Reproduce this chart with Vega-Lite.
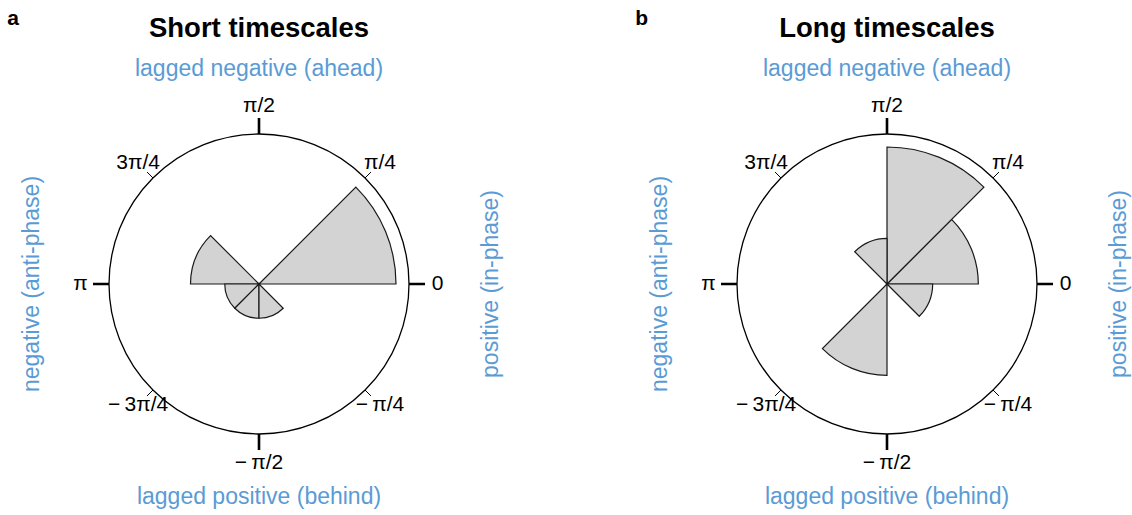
{
  "$schema": "https://vega.github.io/schema/vega-lite/v6.json",
  "autosize": {"type": "pad"},
  "padding": {"left": 7, "top": 7, "right": 0, "bottom": 0},
  "config": {
    "view": {"stroke": null},
    "font": "Liberation Sans",
    "text": {"font": "Liberation Sans"}
  },
  "datasets": {
    "ticks": [
      {"angle": 0, "label": "0", "major": true},
      {"angle": 45, "label": "π/4", "major": false},
      {"angle": 90, "label": "π/2", "major": true},
      {"angle": 135, "label": "3π/4", "major": false},
      {"angle": 180, "label": "π", "major": true},
      {"angle": 225, "label": "−\u20093π/4", "major": false},
      {"angle": 270, "label": "−\u2009π/2", "major": true},
      {"angle": 315, "label": "−\u2009π/4", "major": false}
    ],
    "sides": [
      {"angle": 90, "side": "top", "label": "lagged negative (ahead)"},
      {"angle": 270, "side": "bottom", "label": "lagged positive (behind)"},
      {"angle": 180, "side": "left", "label": "negative (anti-phase)"},
      {"angle": 0, "side": "right", "label": "positive (in-phase)"}
    ]
  },
  "bounds": "flush",
  "spacing": 228,
  "hconcat": [
    {
      "width": 400,
      "height": 400,
      "title": {"text": "a", "anchor": "start", "frame": "group", "offset": 0, "dx": -51.7, "dy": 31, "baseline": "alphabetic", "fontSize": 21, "fontWeight": "bold", "color": "black", "font": "Liberation Sans"},
      "layer": [
        {
          "data": {"values": [{}]},
          "mark": {"type": "arc", "theta": 0, "theta2": 6.2832, "radius": 150, "fill": null, "stroke": "black", "strokeWidth": 1.3},
          "encoding": {}
        },
        {
          "data": {"values": [
            {"from": 0, "to": 45, "count": 4},
            {"from": 135, "to": 180, "count": 2},
            {"from": 180, "to": 225, "count": 1},
            {"from": 225, "to": 270, "count": 1},
            {"from": 270, "to": 315, "count": 1}
          ]},
          "mark": {"type": "arc", "fill": "#d3d3d3", "stroke": "#1a1a1a", "strokeWidth": 1.2},
          "encoding": {
            "theta": {"field": "from", "type": "quantitative", "stack": null, "scale": {"type": "linear", "domain": [0, 360], "range": [1.5707963, -4.712389]}},
            "theta2": {"field": "to"},
            "radius": {"field": "count", "type": "quantitative", "scale": {"type": "linear", "zero": true, "nice": false, "range": [0, 137]}}
          }
        },
        {
          "data": {"name": "ticks"},
          "transform": [{"filter": "datum.major"}],
          "mark": {"type": "arc", "radius": 166, "radius2": 150, "fill": null, "stroke": "black", "strokeWidth": 2.6},
          "encoding": {
            "theta": {"field": "angle", "type": "quantitative", "stack": null, "scale": {"type": "linear", "domain": [0, 360], "range": [1.5707963, -4.712389]}},
            "theta2": {"field": "angle"}
          }
        },
        {
          "data": {"name": "ticks"},
          "transform": [{"filter": "!datum.major"}],
          "mark": {"type": "arc", "radius": 158, "radius2": 150, "fill": null, "stroke": "black", "strokeWidth": 1},
          "encoding": {
            "theta": {"field": "angle", "type": "quantitative", "stack": null},
            "theta2": {"field": "angle"}
          }
        },
        {
          "data": {"name": "ticks"},
          "transform": [{"filter": "datum.major"}],
          "mark": {"type": "text", "radius": 178.5, "fontSize": 21, "color": "black", "baseline": "middle", "align": "center"},
          "encoding": {
            "theta": {"field": "angle", "type": "quantitative", "stack": null},
            "text": {"field": "label"}
          }
        },
        {
          "data": {"name": "ticks"},
          "transform": [{"filter": "!datum.major"}],
          "mark": {"type": "text", "radius": 171, "fontSize": 21, "color": "black", "baseline": "middle", "align": "center"},
          "encoding": {
            "theta": {"field": "angle", "type": "quantitative", "stack": null},
            "text": {"field": "label"}
          }
        },
        {
          "data": {"name": "sides"},
          "transform": [{"filter": "datum.side == 'top'"}],
          "mark": {"type": "text", "radius": 207.8, "fontSize": 23, "color": "#5a9bd5", "baseline": "alphabetic", "align": "center"},
          "encoding": {
            "theta": {"field": "angle", "type": "quantitative", "stack": null},
            "text": {"field": "label"}
          }
        },
        {
          "data": {"name": "sides"},
          "transform": [{"filter": "datum.side == 'bottom'"}],
          "mark": {"type": "text", "radius": 219.5, "fontSize": 23, "color": "#5a9bd5", "baseline": "alphabetic", "align": "center"},
          "encoding": {
            "theta": {"field": "angle", "type": "quantitative", "stack": null},
            "text": {"field": "label"}
          }
        },
        {
          "data": {"name": "sides"},
          "transform": [{"filter": "datum.side == 'left'"}],
          "mark": {"type": "text", "radius": 220.3, "angle": 270, "fontSize": 23, "color": "#5a9bd5", "baseline": "alphabetic", "align": "center"},
          "encoding": {
            "theta": {"field": "angle", "type": "quantitative", "stack": null},
            "text": {"field": "label"}
          }
        },
        {
          "data": {"name": "sides"},
          "transform": [{"filter": "datum.side == 'right'"}],
          "mark": {"type": "text", "radius": 239.2, "angle": 270, "fontSize": 23, "color": "#5a9bd5", "baseline": "alphabetic", "align": "center"},
          "encoding": {
            "theta": {"field": "angle", "type": "quantitative", "stack": null},
            "text": {"field": "label"}
          }
        },
        {
          "data": {"values": [{"angle": 90, "label": "Short timescales"}]},
          "mark": {"type": "text", "radius": 247.3, "fontSize": 27.5, "fontWeight": "bold", "color": "black", "baseline": "alphabetic", "align": "center"},
          "encoding": {
            "theta": {"field": "angle", "type": "quantitative", "stack": null},
            "text": {"field": "label"}
          }
        }
      ]
    },
    {
      "width": 400,
      "height": 400,
      "title": {"text": "b", "anchor": "start", "frame": "group", "offset": 0, "dx": -51.7, "dy": 31, "baseline": "alphabetic", "fontSize": 21, "fontWeight": "bold", "color": "black", "font": "Liberation Sans"},
      "layer": [
        {
          "data": {"values": [{}]},
          "mark": {"type": "arc", "theta": 0, "theta2": 6.2832, "radius": 150, "fill": null, "stroke": "black", "strokeWidth": 1.3},
          "encoding": {}
        },
        {
          "data": {"values": [
            {"from": 0, "to": 45, "count": 2},
            {"from": 45, "to": 90, "count": 3},
            {"from": 90, "to": 135, "count": 1},
            {"from": 225, "to": 270, "count": 2},
            {"from": 315, "to": 360, "count": 1}
          ]},
          "mark": {"type": "arc", "fill": "#d3d3d3", "stroke": "#1a1a1a", "strokeWidth": 1.2},
          "encoding": {
            "theta": {"field": "from", "type": "quantitative", "stack": null, "scale": {"type": "linear", "domain": [0, 360], "range": [1.5707963, -4.712389]}},
            "theta2": {"field": "to"},
            "radius": {"field": "count", "type": "quantitative", "scale": {"type": "linear", "zero": true, "nice": false, "range": [0, 137]}}
          }
        },
        {
          "data": {"name": "ticks"},
          "transform": [{"filter": "datum.major"}],
          "mark": {"type": "arc", "radius": 166, "radius2": 150, "fill": null, "stroke": "black", "strokeWidth": 2.6},
          "encoding": {
            "theta": {"field": "angle", "type": "quantitative", "stack": null, "scale": {"type": "linear", "domain": [0, 360], "range": [1.5707963, -4.712389]}},
            "theta2": {"field": "angle"}
          }
        },
        {
          "data": {"name": "ticks"},
          "transform": [{"filter": "!datum.major"}],
          "mark": {"type": "arc", "radius": 158, "radius2": 150, "fill": null, "stroke": "black", "strokeWidth": 1},
          "encoding": {
            "theta": {"field": "angle", "type": "quantitative", "stack": null},
            "theta2": {"field": "angle"}
          }
        },
        {
          "data": {"name": "ticks"},
          "transform": [{"filter": "datum.major"}],
          "mark": {"type": "text", "radius": 178.5, "fontSize": 21, "color": "black", "baseline": "middle", "align": "center"},
          "encoding": {
            "theta": {"field": "angle", "type": "quantitative", "stack": null},
            "text": {"field": "label"}
          }
        },
        {
          "data": {"name": "ticks"},
          "transform": [{"filter": "!datum.major"}],
          "mark": {"type": "text", "radius": 171, "fontSize": 21, "color": "black", "baseline": "middle", "align": "center"},
          "encoding": {
            "theta": {"field": "angle", "type": "quantitative", "stack": null},
            "text": {"field": "label"}
          }
        },
        {
          "data": {"name": "sides"},
          "transform": [{"filter": "datum.side == 'top'"}],
          "mark": {"type": "text", "radius": 207.8, "fontSize": 23, "color": "#5a9bd5", "baseline": "alphabetic", "align": "center"},
          "encoding": {
            "theta": {"field": "angle", "type": "quantitative", "stack": null},
            "text": {"field": "label"}
          }
        },
        {
          "data": {"name": "sides"},
          "transform": [{"filter": "datum.side == 'bottom'"}],
          "mark": {"type": "text", "radius": 219.5, "fontSize": 23, "color": "#5a9bd5", "baseline": "alphabetic", "align": "center"},
          "encoding": {
            "theta": {"field": "angle", "type": "quantitative", "stack": null},
            "text": {"field": "label"}
          }
        },
        {
          "data": {"name": "sides"},
          "transform": [{"filter": "datum.side == 'left'"}],
          "mark": {"type": "text", "radius": 220.3, "angle": 270, "fontSize": 23, "color": "#5a9bd5", "baseline": "alphabetic", "align": "center"},
          "encoding": {
            "theta": {"field": "angle", "type": "quantitative", "stack": null},
            "text": {"field": "label"}
          }
        },
        {
          "data": {"name": "sides"},
          "transform": [{"filter": "datum.side == 'right'"}],
          "mark": {"type": "text", "radius": 239.2, "angle": 270, "fontSize": 23, "color": "#5a9bd5", "baseline": "alphabetic", "align": "center"},
          "encoding": {
            "theta": {"field": "angle", "type": "quantitative", "stack": null},
            "text": {"field": "label"}
          }
        },
        {
          "data": {"values": [{"angle": 90, "label": "Long timescales"}]},
          "mark": {"type": "text", "radius": 247.3, "fontSize": 27.5, "fontWeight": "bold", "color": "black", "baseline": "alphabetic", "align": "center"},
          "encoding": {
            "theta": {"field": "angle", "type": "quantitative", "stack": null},
            "text": {"field": "label"}
          }
        }
      ]
    }
  ]
}
